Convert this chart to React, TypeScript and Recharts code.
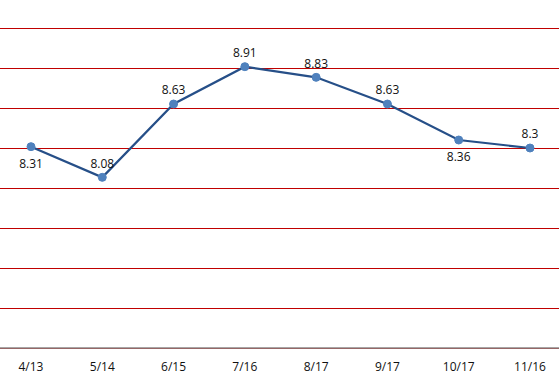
import { LineChart, Line, XAxis, YAxis, CartesianGrid, LabelList } from "recharts";

const months = ["4/13", "5/14", "6/15", "7/16", "8/17", "9/17", "10/17", "11/16"];
const scores = [8.31, 8.08, 8.63, 8.91, 8.83, 8.63, 8.36, 8.3];
const yTicks = [6.8, 7.1, 7.4, 7.7, 8.0, 8.3, 8.6, 8.9, 9.2];
// where each value label sits relative to its point
const labelSide = ["below", "above", "above", "above", "above", "above", "below", "above"];

const data = months.map((m, i) => ({ month: m, score: scores[i] }));

const FONT = "'Open Sans', sans-serif";

function PointLabel(props: any) {
  const { x, y, value, index } = props;
  const below = labelSide[index] === "below";
  return (
    <text
      x={x}
      y={below ? y + 18 : y - 13}
      textAnchor="middle"
      dominantBaseline="middle"
      fontSize={12}
      fontFamily={FONT}
      fill="#111"
    >
      {value}
    </text>
  );
}

export default function App() {
  return (
    <div style={{ position: "absolute", left: 0, top: 0, width: 559, height: 385, background: "#fff" }}>
      <LineChart width={559} height={385} data={data} margin={{ top: 28, right: 0, left: 0, bottom: 0 }}>
        <CartesianGrid vertical={false} stroke="#C00000" strokeWidth={1} shapeRendering="crispEdges" />
        <XAxis
          dataKey="month"
          padding={{ left: 31, right: 29 }}
          height={37}
          tickLine={false}
          tickSize={0}
          tickMargin={14}
          axisLine={{ stroke: "#888", strokeWidth: 1.5 }}
          tick={{ fontSize: 12, fill: "#111", fontFamily: FONT }}
        />
        <YAxis hide domain={[6.8, 9.2]} ticks={yTicks} />
        <Line
          type="linear"
          dataKey="score"
          stroke="#264F88"
          strokeWidth={2.2}
          dot={{ r: 4, fill: "#4F81BD", stroke: "#4F81BD", strokeWidth: 1 }}
          isAnimationActive={false}
        >
          <LabelList dataKey="score" content={PointLabel} />
        </Line>
      </LineChart>
    </div>
  );
}
